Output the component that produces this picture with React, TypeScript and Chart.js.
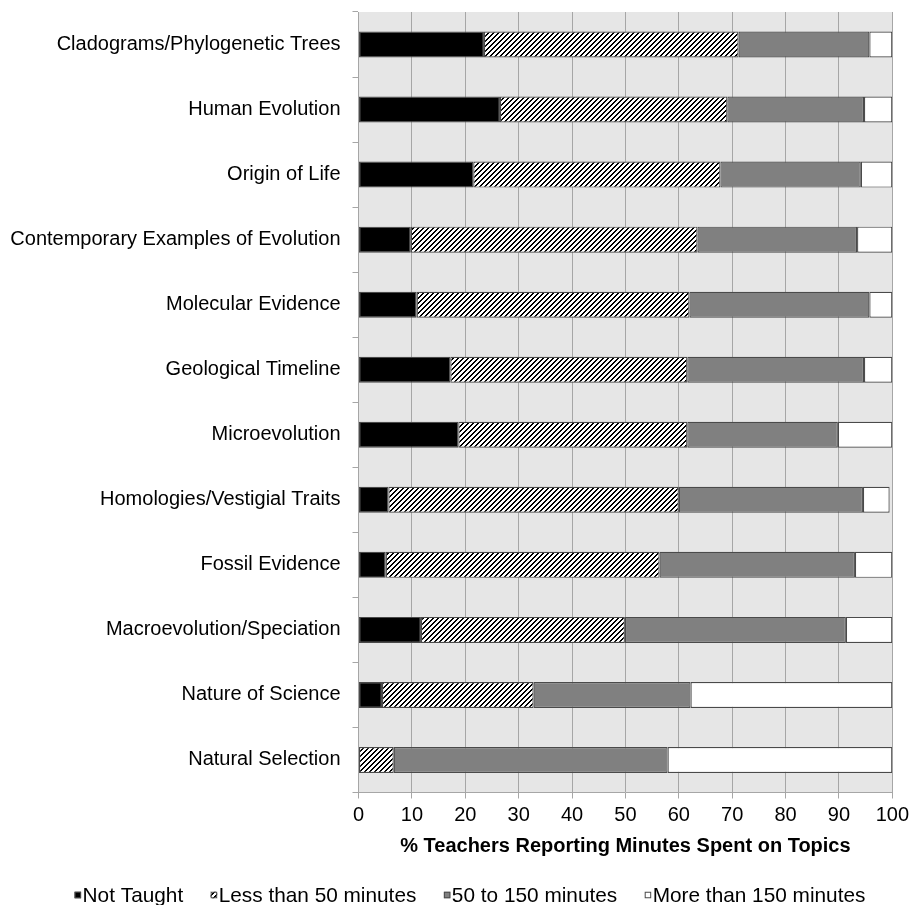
import React, { useEffect, useRef } from 'react';
import { Chart, registerables } from 'chart.js';

Chart.register(...registerables);

const categories = [
  'Cladograms/Phylogenetic Trees',
  'Human Evolution',
  'Origin of Life',
  'Contemporary Examples of Evolution',
  'Molecular Evidence',
  'Geological Timeline',
  'Microevolution',
  'Homologies/Vestigial Traits',
  'Fossil Evidence',
  'Macroevolution/Speciation',
  'Nature of Science',
  'Natural Selection',
];

const notTaught = [23.5, 26.5, 21.5, 9.8, 10.9, 17.2, 18.7, 5.6, 5.1, 11.7, 4.4, 0];
const lessThan50 = [47.7, 42.6, 46.3, 53.7, 51.1, 44.4, 42.9, 54.4, 51.3, 38.2, 28.4, 6.6];
const from50to150 = [24.5, 25.6, 26.3, 29.9, 33.7, 33.1, 28.2, 34.5, 36.6, 41.4, 29.4, 51.3];
const moreThan150 = [4.3, 5.3, 5.9, 6.6, 4.3, 5.3, 10.2, 5.0, 7.0, 8.7, 37.8, 42.1];

const seriesLabels = ['Not Taught', 'Less than 50 minutes', '50 to 150 minutes', 'More than 150 minutes'];
const xAxisTitle = '% Teachers Reporting Minutes Spent on Topics';
const xMin = 0;
const xMax = 100;
const xStep = 10;

const FONT = '"Liberation Sans", Arial, sans-serif';
const BORDER = '#4a4a4a';

function makeHatch(): CanvasPattern | string {
  const size = 5;
  const c = document.createElement('canvas');
  c.width = size;
  c.height = size;
  const g = c.getContext('2d');
  if (!g) return '#ffffff';
  const img = g.createImageData(size, size);
  for (let y = 0; y < size; y++) {
    for (let x = 0; x < size; x++) {
      const k = (x + y) % size;
      const v = k === 0 || k === 1 ? 0 : 255;
      const i = (y * size + x) * 4;
      img.data[i] = v;
      img.data[i + 1] = v;
      img.data[i + 2] = v;
      img.data[i + 3] = 255;
    }
  }
  g.putImageData(img, 0, 0);
  const p = g.createPattern(c, 'repeat');
  return p || '#ffffff';
}

const plotBackground = {
  id: 'plotBackground',
  beforeDraw(chart: any) {
    const { ctx, chartArea } = chart;
    if (!chartArea) return;
    ctx.save();
    ctx.fillStyle = '#e6e6e6';
    ctx.fillRect(chartArea.left, chartArea.top, chartArea.right - chartArea.left, chartArea.bottom - chartArea.top);
    ctx.restore();
  },
};

// Legend drawn in the style of the original: tiny key box right before each label.
const bottomLegend = {
  id: 'bottomLegend',
  afterDraw(chart: any) {
    const { ctx } = chart;
    const fontSize = 20.8;
    const box = 6.5;
    const boxGap = 1.5;
    const itemGap = 27.5;
    const centerX = 470;
    const baseline = 902;
    ctx.save();
    ctx.font = `${fontSize}px ${FONT}`;
    ctx.textBaseline = 'alphabetic';
    ctx.textAlign = 'left';
    const items = chart.data.datasets.map((ds: any) => ({
      text: ds.label as string,
      fill: ds.backgroundColor,
      w: ctx.measureText(ds.label).width,
    }));
    const total =
      items.reduce((s: number, it: any) => s + box + boxGap + it.w, 0) + itemGap * (items.length - 1);
    let x = centerX - total / 2;
    const boxTop = baseline - 7 - box / 2;
    for (const it of items) {
      ctx.fillStyle = it.fill;
      ctx.fillRect(x, boxTop, box, box);
      ctx.lineWidth = 1;
      ctx.strokeStyle = BORDER;
      ctx.strokeRect(x + 0.5, boxTop + 0.5, box - 1, box - 1);
      ctx.fillStyle = '#000000';
      ctx.fillText(it.text, x + box + boxGap, baseline);
      x += box + boxGap + it.w + itemGap;
    }
    ctx.restore();
  },
};

export default function App() {
  const canvasRef = useRef<HTMLCanvasElement>(null);

  useEffect(() => {
    document.body.style.margin = '0';
    document.body.style.overflow = 'hidden';
    const canvas = canvasRef.current;
    if (!canvas) return;
    const hatch = makeHatch();
    const common = {
      borderColor: BORDER,
      borderWidth: 1.2,
      borderSkipped: false,
      barPercentage: 0.4,
      categoryPercentage: 1.0,
    };
    const chart = new Chart(canvas, {
      type: 'bar',
      data: {
        labels: categories,
        datasets: [
          { label: seriesLabels[0], data: notTaught, backgroundColor: '#000000', ...common },
          { label: seriesLabels[1], data: lessThan50, backgroundColor: hatch as any, ...common },
          { label: seriesLabels[2], data: from50to150, backgroundColor: '#808080', ...common },
          { label: seriesLabels[3], data: moreThan150, backgroundColor: '#ffffff', ...common },
        ],
      },
      options: {
        indexAxis: 'y',
        animation: false,
        responsive: true,
        maintainAspectRatio: false,
        layout: { padding: { top: 0, right: 19.5, left: 0, bottom: 47 } },
        plugins: {
          tooltip: { enabled: false },
          legend: { display: false },
        },
        scales: {
          x: {
            type: 'linear',
            stacked: true,
            min: xMin,
            max: xMax,
            ticks: {
              stepSize: xStep,
              color: '#000000',
              padding: 5,
              font: { family: FONT, size: 20 },
            },
            grid: {
              color: '#a6a6a6',
              lineWidth: 1,
              tickLength: 6,
              drawOnChartArea: true,
            },
            border: { display: true, color: '#a6a6a6' },
            title: {
              display: true,
              text: xAxisTitle,
              color: '#000000',
              font: { family: FONT, size: 20, weight: 'bold' },
              padding: { top: 1.5, bottom: 0 },
            },
          },
          y: {
            type: 'category',
            stacked: true,
            ticks: {
              color: '#000000',
              padding: 12,
              font: { family: FONT, size: 20 },
            },
            grid: {
              display: true,
              drawOnChartArea: false,
              offset: true,
              color: '#a6a6a6',
              tickLength: 6,
            },
            border: { display: true, color: '#a6a6a6' },
            afterFit: (scale: any) => {
              scale.width = 358.5;
              scale.paddingTop = 12;
              scale.paddingBottom = 12;
            },
          },
        },
      },
      plugins: [plotBackground, bottomLegend],
    });
    return () => chart.destroy();
  }, []);

  return (
    <div style={{ position: 'relative', width: 914, height: 905 }}>
      <canvas ref={canvasRef} />
    </div>
  );
}
